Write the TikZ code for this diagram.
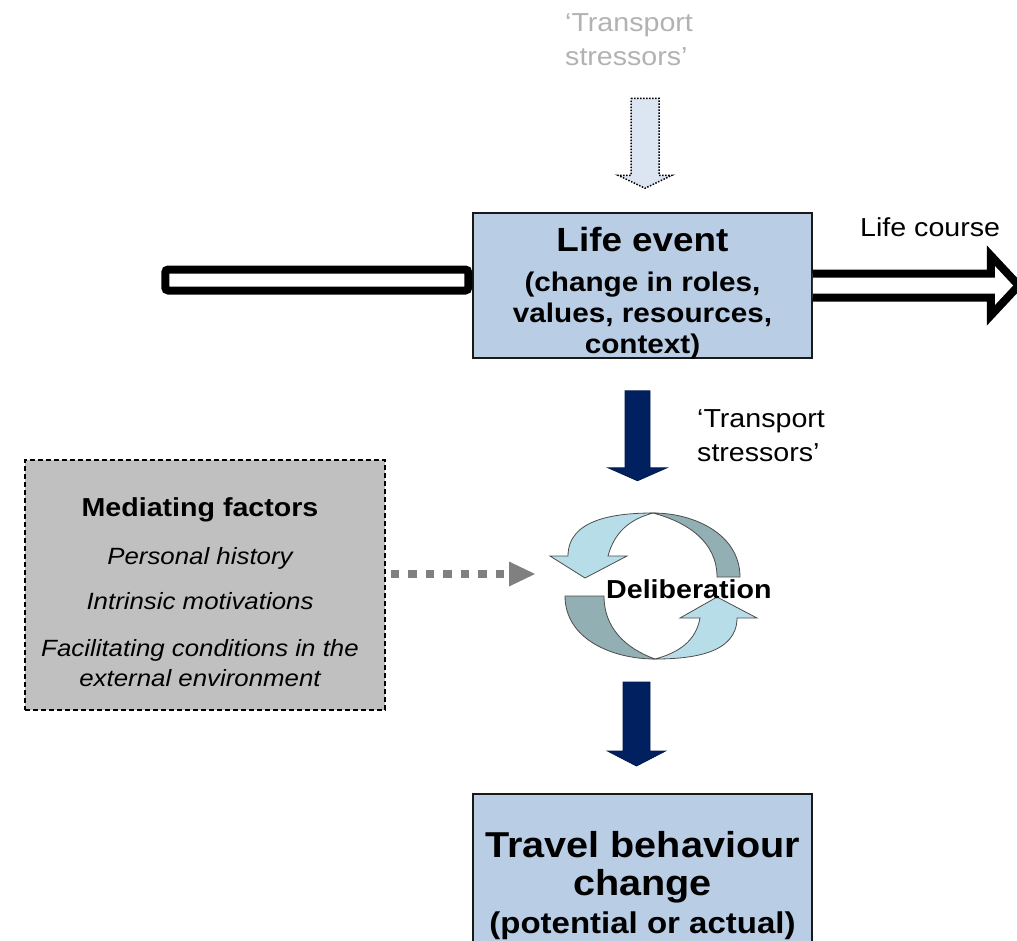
\documentclass[tikz,border=0pt]{standalone}
\usepackage{fontspec}
\setmainfont{Liberation Sans}[FakeStretch=1.1]
\usetikzlibrary{arrows.meta,positioning,calc}

\definecolor{boxblue}{RGB}{185,205,229}
\definecolor{medgray}{RGB}{192,192,192}
\definecolor{navyblue}{RGB}{0,32,96}
\definecolor{paleblue}{RGB}{220,230,242}
\definecolor{cyclt}{RGB}{183,222,232}
\definecolor{cycdk}{RGB}{146,175,179}
\definecolor{stressgray}{RGB}{178,178,178}
\definecolor{arrowgray}{RGB}{128,128,128}

% block arrow pointing down: half shaft, half head, shaft length, total length
\tikzset{
  pics/blockdown/.style n args={4}{code={
    \path[pic actions] (-#1,0) -- (#1,0) -- (#1,-#3) -- (#2,-#3) -- (0,-#4)
      -- (-#2,-#3) -- (-#1,-#3) -- cycle;}}
}

\begin{document}
\begin{tikzpicture}[
  x=1pt, y=1pt,
  plain/.style={inner sep=0pt, font=\fontsize{26}{34}\selectfont},
  evbox/.style={draw=black!90, line width=1.5pt, fill=boxblue, inner sep=0pt, minimum width=339pt},
  medbox/.style={draw=black, line width=1.5pt, dash pattern=on 5pt off 3pt, fill=medgray,
    inner sep=0pt, minimum width=360pt, minimum height=250pt},
  navyarr/.style={fill=navyblue, draw=navyblue!80!black, line width=0.8pt},
  stressarr/.style={fill=paleblue, draw=black, line width=1.5pt, dash pattern=on 1.5pt off 1.5pt},
  coursebar/.style={draw=black, fill=white, line width=8pt},
  medarr/.style={draw=arrowgray, line width=8pt, dash pattern=on 8.3pt off 9.2pt,
    -{Triangle[length=26pt, width=25pt, line width=0pt]}},
  cycdark/.style={fill=cycdk, draw=black!70, line width=0.8pt},
  cyclight/.style={fill=cyclt, draw=black!70, line width=0.8pt}
]
\useasboundingbox (0,0) rectangle (1017,-940);
\clip (0,0) rectangle (1017,-940);

% boxes
\node[evbox, minimum height=145pt] (life) at (642.5,-285.5) {};
\node[evbox, minimum height=170pt, anchor=north] (trav) at (642.5,-793) {};
\node[medbox] (med) at (205,-585) {};

\node[anchor=north, align=center, inner sep=0pt, font=\bfseries\fontsize{27}{31}\selectfont] (lifetxt)
  at (642.5,-227.5) {{\fontsize{33.5}{40}\selectfont Life event}\\[9pt] (change in roles,\\ values, resources,\\ context)};
\node[anchor=north, align=center, inner sep=0pt, font=\bfseries\fontsize{36}{38}\selectfont] (travtxt)
  at (642.5,-831.5) {Travel behaviour\\ change\\ {\fontsize{30}{37}\selectfont (potential or actual)}};
\node[anchor=north, align=center, inner sep=0pt, font=\itshape\fontsize{23.5}{30}\selectfont] (medtxt)
  at (200,-497) {{\upshape\bfseries\fontsize{26}{30}\selectfont Mediating factors}\\[18pt] Personal history\\[15pt]
  Intrinsic motivations\\[17pt] Facilitating conditions in the\\ external environment};

% labels
\node[plain, anchor=north west, align=left, text=stressgray] (stresstop) at (565,-13.5) {‘Transport\\ stressors’};
\node[plain, anchor=north west, align=left] (stressmid) at (697,-409) {‘Transport\\ stressors’};
\node[plain, anchor=base west] (course) at (860,-236) {Life course};

% life course
\draw[coursebar, rounded corners=3pt] ([xshift=-4pt, yshift=16pt]life.west) rectangle ++(-303,-21);
\draw[coursebar, line join=miter] ([yshift=12pt]life.east) -- ++(178,0) -- ++(0,18) -- ++(28,-30)
  -- ++(-28,-30) -- ++(0,18) -- ++(-178,0);

% block arrows
\pic[stressarr] at ($(life.north)+(2.5,114)$) {blockdown={14}{27}{77}{90}};
\pic[navyarr] at ($(life.south)+(-5,-32)$) {blockdown={12.5}{29.5}{77}{90}};
\pic[navyarr] at ($(trav.north)+(-6,111)$) {blockdown={13.5}{29}{69}{84}};

% deliberation cycle
\begin{scope}[shift={(653.5,-585.5)}]
  \draw[cycdark] (-0.5,72.5) to[out=0,in=90] (86.5,8.5) -- (63.5,8.5) to[out=90,in=-15] (-0.5,72.5) -- cycle;
  \draw[cycdark] (1.5,-73.5) to[out=180,in=-90] (-88.5,-10.5) -- (-49.5,-10.5) to[out=-90,in=160] (1.5,-73.5) -- cycle;
  \draw[cyclight] (-0.5,72.5) to[out=180,in=90] (-85.5,29.5) -- (-103.5,29.5) -- (-68.5,7.5) -- (-26.5,29.5)
    -- (-45.5,29.5) to[out=75,in=195] (-0.5,72.5) -- cycle;
  \draw[cyclight] (1.5,-73.5) to[out=0,in=-90] (83.5,-32.5) -- (103.5,-32.5) -- (63.5,-11.5) -- (26.5,-32.5)
    -- (46.5,-32.5) to[out=-100,in=15] (1.5,-73.5) -- cycle;
\end{scope}
\node[anchor=base west, inner sep=0pt, font=\bfseries\fontsize{26}{30}\selectfont] (delib) at (606,-598) {Deliberation};

% mediating factors into deliberation
\coordinate (cycin) at (535,-574);
\draw[medarr] ([xshift=5pt, yshift=11pt]med.east) -- (cycin);
\end{tikzpicture}
\end{document}
